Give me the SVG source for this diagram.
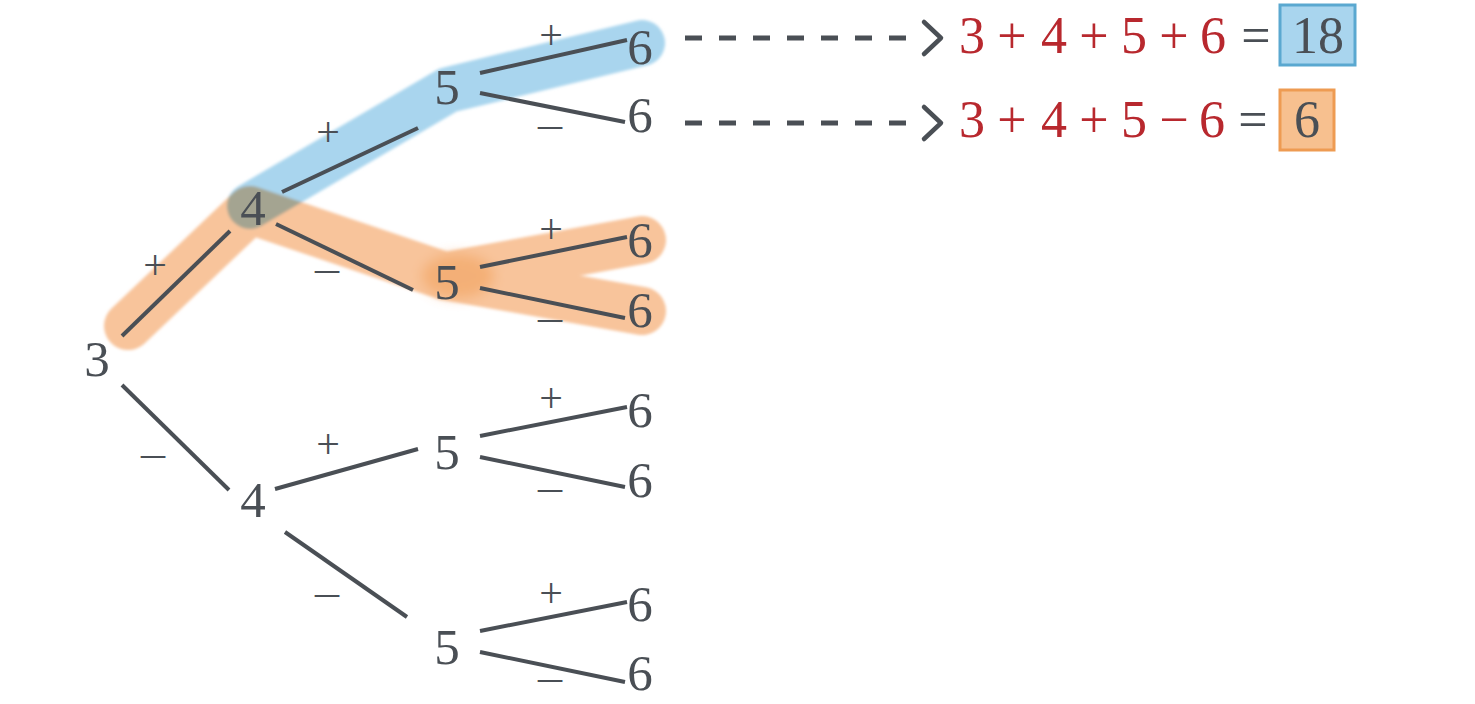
<svg xmlns="http://www.w3.org/2000/svg" width="1475" height="704" viewBox="0 0 1475 704">
<defs>
<filter id="soft" x="-10%" y="-10%" width="120%" height="120%"><feGaussianBlur stdDeviation="1.8"/></filter>
<filter id="softer" x="-50%" y="-50%" width="200%" height="200%"><feGaussianBlur stdDeviation="6"/></filter>
<style>
.num{font-family:"Liberation Serif","DejaVu Serif",serif;font-size:51px;fill:#4a4f55;text-anchor:middle}
.pl{font-family:"Liberation Serif","DejaVu Serif",serif;font-size:42px;fill:#4a4f55;text-anchor:middle}
.mi{font-family:"Liberation Serif","DejaVu Serif",serif;font-size:40px;fill:#4a4f55;text-anchor:middle}
.eq{font-family:"Liberation Serif","DejaVu Serif",serif;font-size:52px;fill:#b8282e;text-anchor:middle}
.eqg{fill:#4a4f55}
.edge{stroke:#4a4f55;stroke-width:4;stroke-linecap:butt;fill:none}
.dash{stroke:#4a4f55;stroke-width:5;stroke-dasharray:17 17;fill:none}
.head{stroke:#4a4f55;stroke-width:4.5;fill:none;stroke-linecap:round;stroke-linejoin:round}
.hb{stroke:#a9d5ee;stroke-width:46;fill:none;stroke-linecap:round;stroke-linejoin:round}
.ho{stroke:#f8c49b;stroke-width:48;fill:none;stroke-linecap:round;stroke-linejoin:round}
</style>
</defs>
<rect width="1475" height="704" fill="#ffffff"/>
<g id="highlights" filter="url(#soft)">
<g id="orange-path">
<polyline class="ho" points="128,326 250,210 445,276"/>
<line class="ho" x1="445" y1="276" x2="642" y2="240"/>
<line class="ho" x1="445" y1="276" x2="642" y2="311"/>
<ellipse cx="458" cy="276" rx="36" ry="22" fill="#f2a767" opacity="0.7" filter="url(#softer)"/>
</g>
<g id="blue-path" style="mix-blend-mode:multiply">
<polyline class="hb" points="250,206 448,90 642,43"/>
</g>
</g>
<g id="connectors">
<line class="edge" x1="122" y1="336" x2="230" y2="231"/>
<line class="edge" x1="282" y1="192" x2="418" y2="128"/>
<line class="edge" x1="480" y1="73" x2="627" y2="40"/>
<line class="edge" x1="480" y1="93" x2="625" y2="122"/>
<line class="edge" x1="276" y1="224" x2="413" y2="290"/>
<line class="edge" x1="480" y1="267" x2="627" y2="237"/>
<line class="edge" x1="480" y1="288" x2="625" y2="318"/>
<line class="edge" x1="122" y1="385" x2="229" y2="490"/>
<line class="edge" x1="275" y1="489" x2="418" y2="449"/>
<line class="edge" x1="480" y1="436" x2="627" y2="407"/>
<line class="edge" x1="480" y1="457" x2="625" y2="487"/>
<line class="edge" x1="285" y1="532" x2="407" y2="617"/>
<line class="edge" x1="480" y1="631" x2="627" y2="602"/>
<line class="edge" x1="480" y1="652" x2="625" y2="682"/>
<line class="dash" x1="685" y1="38" x2="906" y2="38"/>
<polyline class="head" points="924,22 941,38 924,54"/>
<line class="dash" x1="685" y1="123" x2="906" y2="123"/>
<polyline class="head" points="924,107 941,123 924,139"/>
</g>
<g id="edge-labels">
<text class="pl" x="155" y="279">+</text>
<text class="pl" x="328" y="146">+</text>
<text class="pl" x="551" y="49">+</text>
<text class="mi" x="550" y="141" textLength="30" lengthAdjust="spacingAndGlyphs">−</text>
<text class="mi" x="327" y="285" textLength="30" lengthAdjust="spacingAndGlyphs">−</text>
<text class="pl" x="551" y="243">+</text>
<text class="mi" x="550" y="334" textLength="30" lengthAdjust="spacingAndGlyphs">−</text>
<text class="mi" x="153" y="470" textLength="30" lengthAdjust="spacingAndGlyphs">−</text>
<text class="pl" x="328" y="458">+</text>
<text class="pl" x="551" y="412">+</text>
<text class="mi" x="550" y="504" textLength="30" lengthAdjust="spacingAndGlyphs">−</text>
<text class="mi" x="327" y="609" textLength="30" lengthAdjust="spacingAndGlyphs">−</text>
<text class="pl" x="551" y="607">+</text>
<text class="mi" x="550" y="694" textLength="30" lengthAdjust="spacingAndGlyphs">−</text>
</g>
<g id="n3"><text class="num" x="97" y="376">3</text></g>
<g id="n4a"><text class="num" x="253" y="225">4</text></g>
<g id="n4b"><text class="num" x="253" y="517">4</text></g>
<g id="n5a"><text class="num" x="447" y="104">5</text></g>
<g id="n5b"><text class="num" x="447" y="299">5</text></g>
<g id="n5c"><text class="num" x="447" y="469">5</text></g>
<g id="n5d"><text class="num" x="447" y="664">5</text></g>
<g id="n6a"><text class="num" x="640" y="64">6</text></g>
<g id="n6b"><text class="num" x="640" y="132">6</text></g>
<g id="n6c"><text class="num" x="640" y="257">6</text></g>
<g id="n6d"><text class="num" x="640" y="327">6</text></g>
<g id="n6e"><text class="num" x="640" y="427">6</text></g>
<g id="n6f"><text class="num" x="640" y="497">6</text></g>
<g id="n6g"><text class="num" x="640" y="621">6</text></g>
<g id="n6h"><text class="num" x="640" y="690">6</text></g>
<g id="eq1">
<text class="eq" x="972" y="53">3</text>
<text class="eq" x="1012" y="53">+</text>
<text class="eq" x="1054" y="53">4</text>
<text class="eq" x="1094" y="53">+</text>
<text class="eq" x="1134" y="53">5</text>
<text class="eq" x="1174" y="53">+</text>
<text class="eq" x="1213" y="53">6</text>
<text class="eq eqg" x="1256" y="53">=</text>
<rect x="1280" y="5" width="75" height="60" fill="#a9d5ee" stroke="#5aa8d0" stroke-width="3"/>
<text class="eq eqg" x="1318" y="53">18</text>
</g>
<g id="eq2">
<text class="eq" x="972" y="137">3</text>
<text class="eq" x="1012" y="137">+</text>
<text class="eq" x="1054" y="137">4</text>
<text class="eq" x="1094" y="137">+</text>
<text class="eq" x="1134" y="137">5</text>
<text class="eq" x="1174" y="137">−</text>
<text class="eq" x="1212" y="137">6</text>
<text class="eq eqg" x="1253" y="137">=</text>
<rect x="1280" y="90" width="54" height="60" fill="#f7c08f" stroke="#ee9b52" stroke-width="3"/>
<text class="eq eqg" x="1307" y="137">6</text>
</g>
</svg>
